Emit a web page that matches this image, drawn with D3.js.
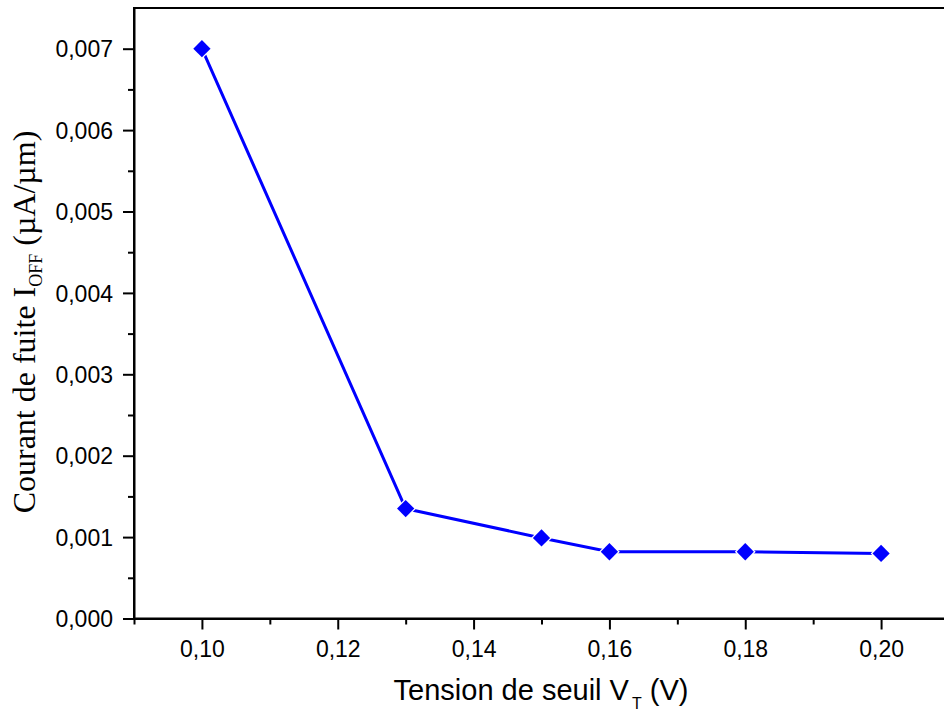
<!DOCTYPE html>
<html>
<head>
<meta charset="utf-8">
<script src="https://cdn.jsdelivr.net/npm/d3@7"></script>
<style>
  html, body { margin: 0; padding: 0; background: #fff; overflow: hidden; }
  svg { display: block; }
</style>
</head>
<body>
<svg id="chart" width="944" height="713"></svg>
<script>
// Threshold voltage (V) vs. off-state leakage current (µA/µm)
const thresholdV = [0.10, 0.13, 0.15, 0.16, 0.18, 0.20];
const leakage = [0.0070, 0.00135, 0.00099, 0.00082, 0.00082, 0.00080];

const xMajorTicks = [0.10, 0.12, 0.14, 0.16, 0.18, 0.20];
const xMinorTicks = [0.09, 0.11, 0.13, 0.15, 0.17, 0.19, 0.21];
const yMajorTicks = [0, 0.001, 0.002, 0.003, 0.004, 0.005, 0.006, 0.007];
const yMinorTicks = [0.0005, 0.0015, 0.0025, 0.0035, 0.0045, 0.0055, 0.0065];

const svg = d3.select("#chart");
const plotLeft = 134, plotRight = 949, plotTop = 8, plotBottom = 618.5;

const x = d3.scaleLinear().domain([0.09, 0.21]).range([plotLeft, plotRight]);
const y = d3.scaleLinear().domain([0, 0.0075]).range([plotBottom, plotTop]);

const fmtX = d => d3.format(".2f")(d).replace(".", ",");
const fmtY = d => d3.format(".3f")(d).replace(".", ",");

// frame
svg.append("rect")
  .attr("x", plotLeft).attr("y", plotTop)
  .attr("width", plotRight - plotLeft).attr("height", plotBottom - plotTop)
  .attr("fill", "none").attr("stroke", "#000").attr("stroke-width", 2);

// bottom axis
const xAxis = svg.append("g").attr("transform", `translate(0,${plotBottom})`)
  .call(d3.axisBottom(x).tickValues(xMajorTicks).tickFormat(fmtX).tickSizeInner(11).tickSizeOuter(0).tickPadding(11));
xAxis.append("g").call(d3.axisBottom(x).tickValues(xMinorTicks).tickFormat("").tickSizeInner(6).tickSizeOuter(0))
  .select(".domain").remove();

// left axis
const yAxis = svg.append("g").attr("transform", `translate(${plotLeft},0)`)
  .call(d3.axisLeft(y).tickValues(yMajorTicks).tickFormat(fmtY).tickSizeInner(11).tickSizeOuter(0).tickPadding(10));
yAxis.append("g").call(d3.axisLeft(y).tickValues(yMinorTicks).tickFormat("").tickSizeInner(6).tickSizeOuter(0))
  .select(".domain").remove();

svg.selectAll(".domain").attr("stroke-width", 2);
svg.selectAll(".tick line").attr("stroke-width", 2);
svg.selectAll(".tick text")
  .attr("font-family", "'Liberation Sans', Arial, sans-serif")
  .attr("font-size", 23).attr("fill", "#000");
yAxis.selectAll(".tick text").attr("dy", "0.36em");

// data line
const pts = thresholdV.map((v, i) => [v, leakage[i]]);
svg.append("path")
  .datum(pts)
  .attr("fill", "none").attr("stroke", "#0000ff").attr("stroke-width", 3)
  .attr("d", d3.line().x(d => x(d[0])).y(d => y(d[1])));

// diamond markers
const diamond = d3.symbol().type(d3.symbolDiamond2).size(190);
svg.append("g").selectAll("path").data(pts).join("path")
  .attr("transform", d => `translate(${x(d[0])},${y(d[1])})`)
  .attr("d", diamond)
  .attr("fill", "#0000ff").attr("stroke", "#fff").attr("stroke-width", 2.5)
  .attr("paint-order", "stroke");

// axis titles
const xt = svg.append("text")
  .attr("x", 541).attr("y", 700)
  .attr("text-anchor", "middle")
  .attr("font-family", "'Liberation Sans', Arial, sans-serif")
  .attr("font-size", 29).attr("fill", "#000");
xt.append("tspan").text("Tension de seuil V");
xt.append("tspan").attr("font-size", 16).attr("dy", 9).attr("dx", 3).text("T");
xt.append("tspan").attr("dy", -9).text(" (V)");

const yt = svg.append("text")
  .attr("transform", `translate(35,322) rotate(-90)`)
  .attr("text-anchor", "middle")
  .attr("font-family", "'Liberation Serif', 'Times New Roman', serif")
  .attr("font-size", 32).attr("fill", "#000");
yt.append("tspan").text("Courant de fuite I");
yt.append("tspan").attr("font-size", 18).attr("dy", 7).text("OFF");
yt.append("tspan").attr("dy", -7).text(" (µA/µm)");
</script>
</body>
</html>
